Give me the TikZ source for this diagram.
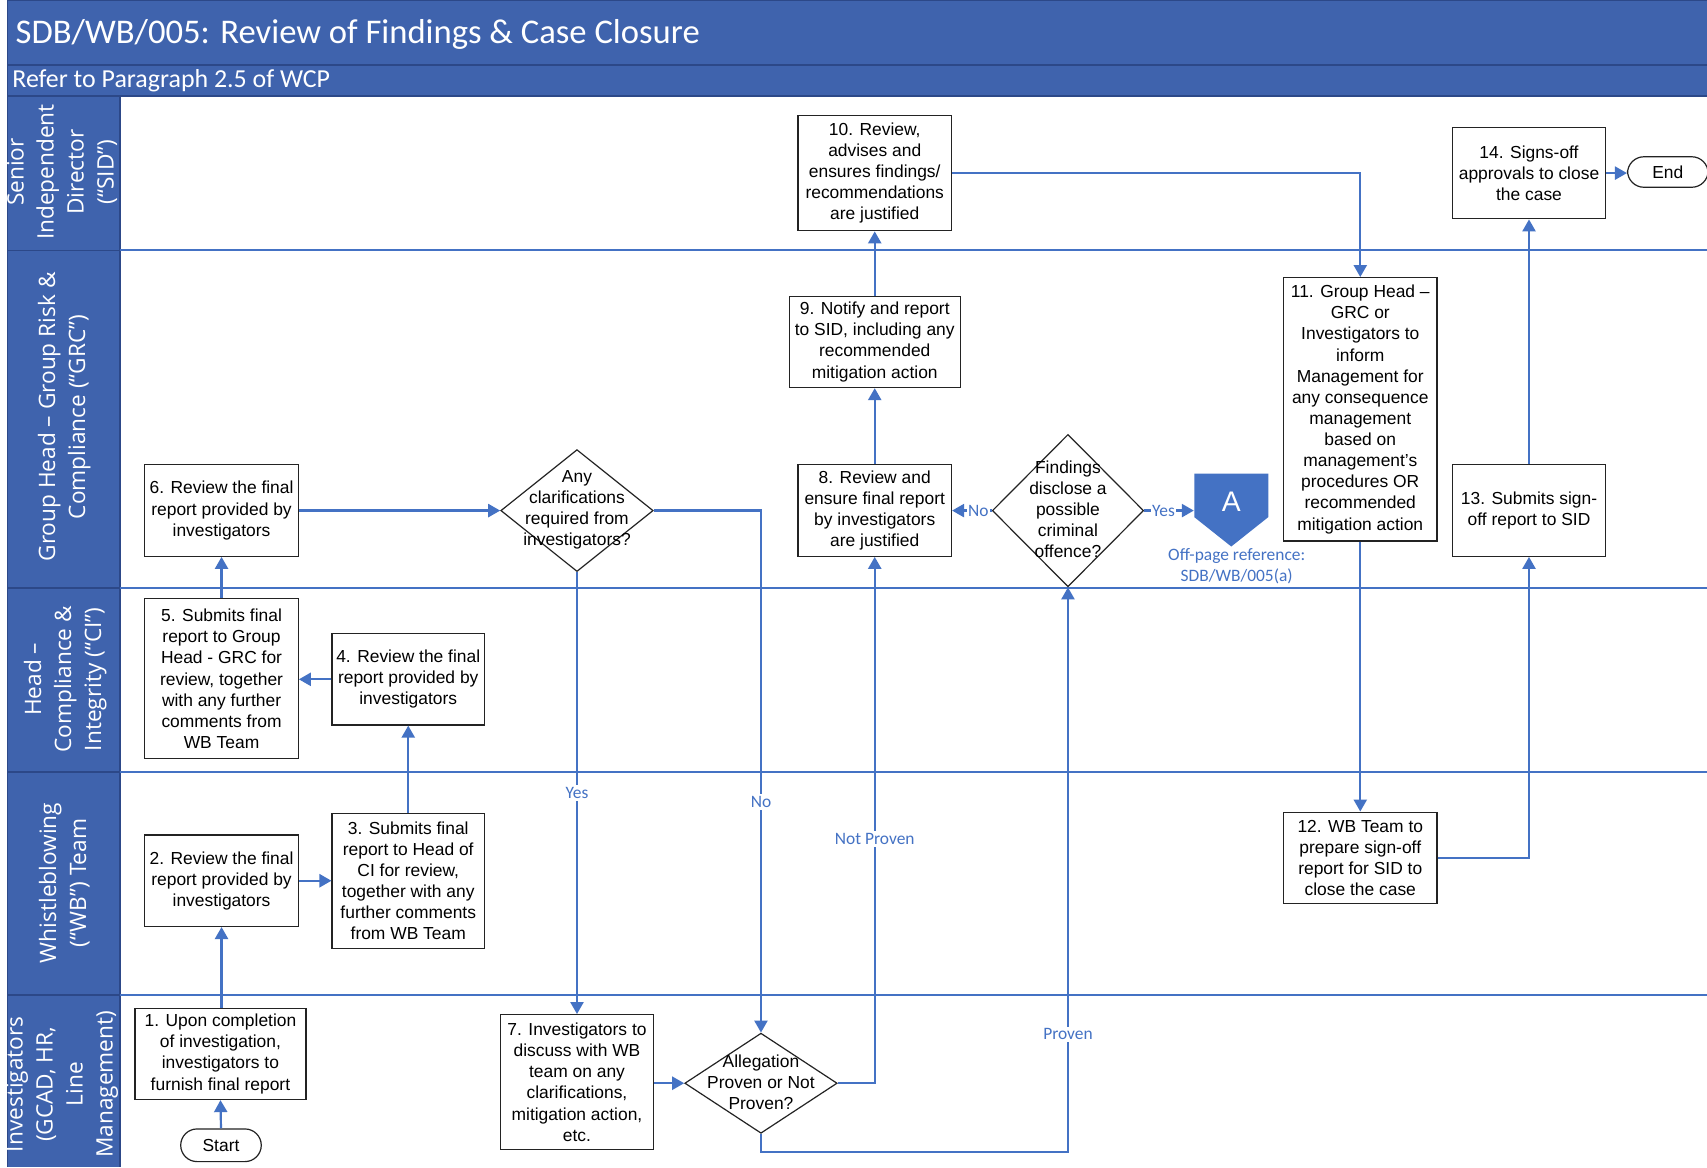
\documentclass[tikz,border=0pt]{standalone}
\usepackage{fontspec}
\setmainfont{Liberation Sans}
\newfontfamily\calfont{Carlito}
\newfontfamily\lanefont{Open Sans}
\usetikzlibrary{arrows.meta,shapes.geometric}
\definecolor{bandblue}{RGB}{63,99,173}
\definecolor{banddark}{RGB}{44,72,136}
\definecolor{flowblue}{RGB}{68,114,196}
\definecolor{boxline}{RGB}{35,35,35}
\begin{document}
\begin{tikzpicture}[x=0.5pt,y=-0.5pt,
  proc/.style={draw=boxline,line width=0.55pt,fill=white,inner sep=0pt,align=center,
    font=\fontsize{8}{9.7}\selectfont},
  term/.style={proc,rounded corners=7.5pt},
  dec/.style={diamond,draw=boxline,line width=0.55pt,fill=white,inner sep=0pt},
  dectext/.style={align=center,inner sep=0pt,font=\fontsize{8}{9.7}\selectfont},
  flow/.style={draw=flowblue,line width=1pt,-{Triangle[length=5.5pt,width=6pt]}},
  lbl/.style={fill=white,inner sep=1pt,text=flowblue,font=\calfont\fontsize{8}{9.5}\selectfont},
  lane/.style={rotate=90,align=center,text=white,inner sep=0pt,
    font=\lanefont\fontsize{10.4}{13.8}\selectfont},
  laneline/.style={draw=flowblue,line width=1pt},
  colline/.style={draw=banddark,line width=0.8pt},
]
\useasboundingbox (0,0) rectangle (1568,1072);
\fill[white] (0,0) rectangle (1568,1072);

% header bands and lane column
\fill[bandblue] (7,0) rectangle (1568,88);
\fill[bandblue] (7,88) rectangle (110,1072);
\draw[colline] (7,60) -- (1568,60);
\draw[colline] (7,88) -- (1568,88);
\draw[colline] (7,0.5) -- (1568,0.5);
\draw[colline] (7,0) -- (7,1072);
\draw[colline] (110,88) -- (110,1072);
\foreach \yy in {230,540,709,914}{
  \draw[colline] (7,\yy) -- (110,\yy);
  \draw[laneline] (110,\yy) -- (1568,\yy);
}

\node[anchor=west,inner sep=0pt,text=white,font=\calfont\fontsize{15.9}{18}\selectfont]
  (title) at (14,32) {SDB/WB/005: Review of Findings \& Case Closure};
\node[anchor=west,inner sep=0pt,text=white,font=\calfont\fontsize{11.9}{13}\selectfont]
  (subtitle) at (11,74) {Refer to Paragraph 2.5 of WCP};

% lane titles
\node[lane] (lsid) at (57,158) {Senior\\Independent\\Director\\(“SID”)};
\node[lane] (lgrc) at (59,383) {Group Head – Group Risk \&\\Compliance (“GRC”)};
\node[lane] (lci)  at (60,624) {Head –\\Compliance \&\\Integrity (“CI”)};
\node[lane] (lwb)  at (59,811) {Whistleblowing\\(“WB”) Team};
\node[lane] (linv) at (57,996) {Investigators\\(GCAD, HR,\\Line\\Management)};

% process steps
\node[term,minimum width=37pt,minimum height=15pt] (start) at (203,1052) {Start};
\node[proc,minimum width=78.5pt,minimum height=42pt] (b1) at (202.5,968)
  {1. Upon completion\\of investigation,\\investigators to\\furnish final report};
\node[proc,minimum width=70.5pt,minimum height=42pt] (b2) at (203.5,809)
  {2. Review the final\\report provided by\\investigators};
\node[proc,minimum width=70pt,minimum height=62pt] (b3) at (375,809)
  {3. Submits final\\report to Head of\\CI for review,\\together with any\\further comments\\from WB Team};
\node[proc,minimum width=70pt,minimum height=42pt] (b4) at (375,624)
  {4. Review the final\\report provided by\\investigators};
\node[proc,minimum width=70.5pt,minimum height=73.5pt] (b5) at (203.5,623.5)
  {5. Submits final\\report to Group\\Head - GRC for\\review, together\\with any further\\comments from\\WB Team};
\node[proc,minimum width=70.5pt,minimum height=42pt] (b6) at (203.5,469)
  {6. Review the final\\report provided by\\investigators};

\node[dec,minimum width=70pt,minimum height=56pt] (d1) at (530,469) {};
\node[dectext] (d1t) at (530,468) {Any\\clarifications\\required from\\investigators?};

\node[proc,minimum width=70pt,minimum height=62pt] (b7) at (530,994)
  {7. Investigators to\\discuss with WB\\team on any\\clarifications,\\mitigation action,\\etc.};

\node[dec,minimum width=70pt,minimum height=46pt] (d2) at (699,995) {};
\node[dectext] (d2t) at (699,994) {Allegation\\Proven or Not\\Proven?};

\node[proc,minimum width=70.5pt,minimum height=42pt] (b8) at (803.5,469)
  {8. Review and\\ensure final report\\by investigators\\are justified};
\node[proc,minimum width=78.5pt,minimum height=42pt] (b9) at (803.5,314)
  {9. Notify and report\\to SID, including any\\recommended\\mitigation action};
\node[proc,minimum width=70.5pt,minimum height=53pt] (b10) at (803.5,159)
  {10. Review,\\advises and\\ensures findings/\\recommendations\\are justified};

\node[dec,minimum width=69.5pt,minimum height=70pt] (d3) at (981,469) {};
\node[dectext] (d3t) at (981,468) {Findings\\disclose a\\possible\\criminal\\offence?};

% off-page reference
\fill[flowblue] (1097,435) -- (1165,435) -- (1165,475) -- (1131,502) -- (1097,475) -- cycle;
\node[inner sep=0pt,minimum width=34pt,minimum height=33.5pt] (offp) at (1131,468.5) {};
\node[inner sep=0pt,text=white,font=\fontsize{13}{13}\selectfont] (offa) at (1131,461) {A};
\node[inner sep=0pt,align=center,text=flowblue,font=\calfont\fontsize{8}{9.5}\selectfont]
  (offref) at (1136,520) {Off-page reference:\\SDB/WB/005(a)};

\node[proc,minimum width=70.5pt,minimum height=121pt] (b11) at (1249.5,376)
  {11. Group Head –\\GRC or\\Investigators to\\inform\\Management for\\any consequence\\management\\based on\\management’s\\procedures OR\\recommended\\mitigation action};
\node[proc,minimum width=70.5pt,minimum height=42pt] (b12) at (1249.5,788)
  {12. WB Team to\\prepare sign-off\\report for SID to\\close the case};
\node[proc,minimum width=70.5pt,minimum height=42pt] (b13) at (1404.5,469)
  {13. Submits sign-\\off report to SID};
\node[proc,minimum width=70.5pt,minimum height=42pt] (b14) at (1404.5,159)
  {14. Signs-off\\approvals to close\\the case};
\node[term,minimum width=37pt,minimum height=14pt] (stop) at (1532,158) {End};

% connectors
\draw[flow] (start.north) -- (b1.south);
\draw[flow] (b1.north -| b2.south) -- (b2.south);
\draw[flow] (b2.east) -- (b3.west);
\draw[flow] (b3.north) -- (b4.south);
\draw[flow] (b4.west) -- (b4.west -| b5.east);
\draw[flow] (b5.north) -- (b6.south);
\draw[flow] (b6.east) -- (d1.west);
\draw[flow] (d1.south) -- node[lbl,pos=0.5] {Yes} (b7.north);
\draw[flow] (d1.east) -| node[lbl,pos=0.779] {No} (d2.north);
\draw[flow] (b7.east |- d2.west) -- (d2.west);
\draw[flow] (d2.east) -| node[lbl,pos=0.732] {Not Proven} (b8.south);
\coordinate (loop) at (981,1058);
\draw[flow] (d2.south) |- (loop) -- node[lbl,pos=0.208] {Proven} (d3.south);
\draw[flow] (d3.west) -- node[lbl,pos=0.34,inner sep=0.5pt] {No} (b8.east);
\draw[flow] (d3.east) -- node[lbl,pos=0.39,inner sep=0.5pt] {Yes} (d3.east -| offp.west);
\draw[flow] (b8.north) -- (b9.south);
\draw[flow] (b9.north) -- (b10.south);
\draw[flow] (b10.east) -| (b11.north);
\draw[flow] (b11.south) -- (b12.north);
\draw[flow] (b12.east) -| (b13.south);
\draw[flow] (b13.north) -- (b14.south);
\draw[flow] (b14.east) -- (b14.east -| stop.west);
\end{tikzpicture}
\end{document}
